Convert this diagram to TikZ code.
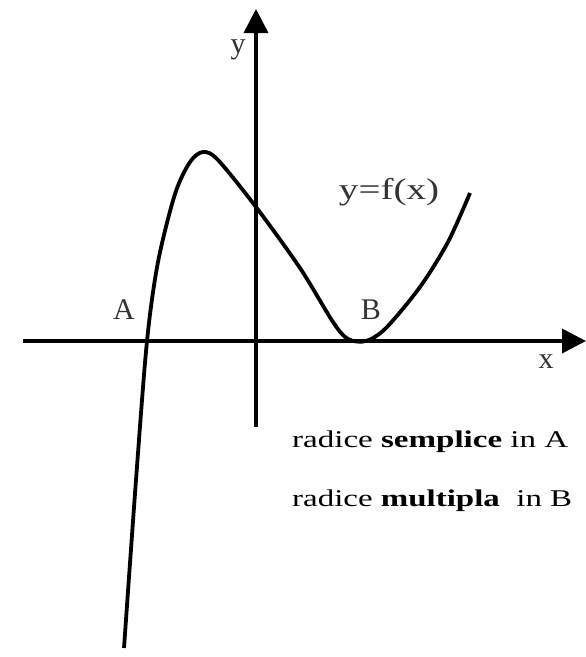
\documentclass[tikz,border=0pt]{standalone}
\usepackage{fontspec}
\setmainfont{Liberation Serif}
\usetikzlibrary{arrows.meta}
\newcommand{\wtext}[2]{\resizebox{#1}{\height}{#2}}
\tikzset{
  axis/.style={line width=3.6pt, -{Triangle[length=24pt,width=24pt]}},
  curve/.style={line width=3.8pt, line join=round},
  lbl/.style={font=\fontsize{30}{30}\selectfont, text=black!80, inner sep=0pt},
  note/.style={font=\fontsize{24}{24}\selectfont, anchor=west, inner sep=0pt}
}
\begin{document}
\begin{tikzpicture}[x=1pt,y=-1pt]
\useasboundingbox (0,0) rectangle (586,657);
\coordinate (xs) at (23,341);
\coordinate (xe) at (586,341);
\coordinate (ys) at (256,427);
\coordinate (ye) at (256,9);
\draw[axis] (xs) -- (xe);
\draw[axis] (ys) -- (ye);
\draw[curve] plot[smooth, tension=0.5] coordinates {(124,648) (136,480) (147,341) (158,262) (175,194) (190,162) (203,152) (218,160) (256,207) (300,268) (333,322) (348,339) (366,341) (386,328) (420,287) (448,242) (470,193)};
\node[lbl] (ly) at (238,50) {y};
\node[lbl] (lx) at (546,362) {x};
\node[lbl] (la) at (124,310) {A};
\node[lbl] (lb) at (371,310) {B};
\node[lbl] (lf) at (389,192) {\wtext{100pt}{y=f(x)}};
\node[note] (t1) at (292,442) {\wtext{276pt}{radice \textbf{semplice} in A}};
\node[note] (t2) at (292,501) {\wtext{280pt}{radice \textbf{multipla}\ \ in B}};
\end{tikzpicture}
\end{document}
